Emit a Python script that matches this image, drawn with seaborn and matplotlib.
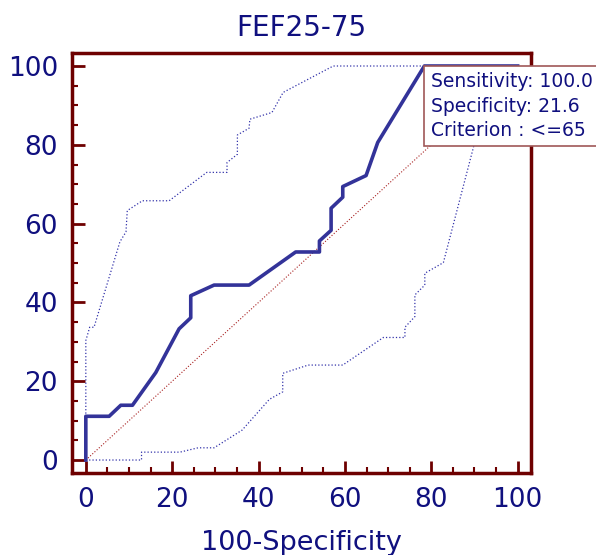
import numpy as np
import pandas as pd
import matplotlib
matplotlib.use('Agg')
import matplotlib.pyplot as plt
from matplotlib.ticker import MultipleLocator
import seaborn as sns

# ROC curve (100-Specificity vs Sensitivity)
roc_fpr = [0, 0, 5.4, 8.1, 10.8, 16.2, 21.6, 24.3, 24.3, 29.7, 37.8, 48.6, 54.1, 54.1,
           56.8, 56.8, 59.5, 59.5, 64.9, 67.6, 78.4, 100]
roc_tpr = [0, 11.1, 11.1, 13.9, 13.9, 22.2, 33.3, 36.1, 41.7, 44.4, 44.4, 52.8, 52.8, 55.6,
           58.3, 63.9, 66.7, 69.4, 72.2, 80.6, 100, 100]

# upper confidence bound
upper_x = [0, 0, 0.9, 1.9, 7.9, 9.3, 9.6, 13.1, 19.3, 28.0, 32.7, 32.7, 35.1, 35.1,
           37.8, 38.0, 43.1, 45.7, 57.3, 100]
upper_y = [0, 30.3, 33.7, 33.7, 55.4, 57.9, 63.3, 65.8, 65.8, 73.0, 73.0, 75.5, 77.6, 82.5,
           84.2, 86.5, 88.2, 93.3, 100, 100]

# lower confidence bound
lower_x = [0, 12.9, 12.9, 21.8, 26.0, 29.7, 36.2, 42.5, 45.6, 45.6, 51.5, 59.5, 68.9, 73.9,
           73.9, 76.2, 76.2, 78.5, 78.5, 82.8, 89.7, 94.6, 100]
lower_y = [0, 0, 2.0, 2.0, 3.1, 3.1, 7.6, 15.4, 17.3, 22.0, 24.1, 24.1, 31.1, 31.1,
           33.7, 36.4, 41.9, 44.4, 47.4, 50.1, 79.1, 100, 100]

diag = [0, 100]

title = 'FEF25-75'
xlabel = '100-Specificity'
box_lines = ['Sensitivity: 100.0', 'Specificity: 21.6', 'Criterion : <=65']
criterion_point = (78.4, 100)

plt.rcParams['font.family'] = ['DejaVu Sans']

navy = '#10107f'
dark_red = '#6e0000'
line_blue = '#333399'

fig = plt.figure(figsize=(5.96, 5.55), dpi=100)
ax = fig.add_axes([0.1208, 0.1477, 0.7702, 0.7568])

# diagonal reference
sns.lineplot(x=diag, y=diag, ax=ax, color='#a82020', linewidth=0.8, linestyle=':',
             sort=False, estimator=None)
# confidence bounds
sns.lineplot(x=upper_x, y=upper_y, ax=ax, color='#3333aa', linewidth=0.9, linestyle=':',
             sort=False, estimator=None)
sns.lineplot(x=lower_x, y=lower_y, ax=ax, color='#3333aa', linewidth=0.9, linestyle=':',
             sort=False, estimator=None)
# ROC curve
sns.lineplot(x=roc_fpr, y=roc_tpr, ax=ax, color=line_blue, linewidth=2.6,
             sort=False, estimator=None)

ax.set_xlim(-3.2, 103.1)
ax.set_ylim(-3.3, 103.3)
ax.xaxis.set_major_locator(MultipleLocator(20))
ax.xaxis.set_minor_locator(MultipleLocator(5))
ax.yaxis.set_major_locator(MultipleLocator(20))
ax.yaxis.set_minor_locator(MultipleLocator(5))

for s in ax.spines.values():
    s.set_color(dark_red)
    s.set_linewidth(2.5)

ax.tick_params(which='major', direction='in', length=9, width=2, color=dark_red,
               labelcolor=navy, labelsize=19)
ax.tick_params(which='minor', direction='in', length=4.5, width=1.5, color=dark_red)
ax.tick_params(axis='x', which='major', pad=10)
ax.tick_params(axis='y', which='major', pad=10)

ax.set_title(title, color=navy, fontsize=20, pad=12)
ax.set_xlabel(xlabel, color=navy, fontsize=19.5, labelpad=12)
ax.set_ylabel('')

ax.annotate('\n'.join(box_lines), xy=criterion_point, xycoords='data',
            xytext=(4.5, -4.5), textcoords='offset points', ha='left', va='top',
            fontsize=13.5, color=navy, linespacing=1.35, annotation_clip=False,
            zorder=10,
            bbox=dict(boxstyle='square,pad=0.35', fc='white', ec='#a05858', lw=1.2))

fig.savefig('out.png', dpi=100)
